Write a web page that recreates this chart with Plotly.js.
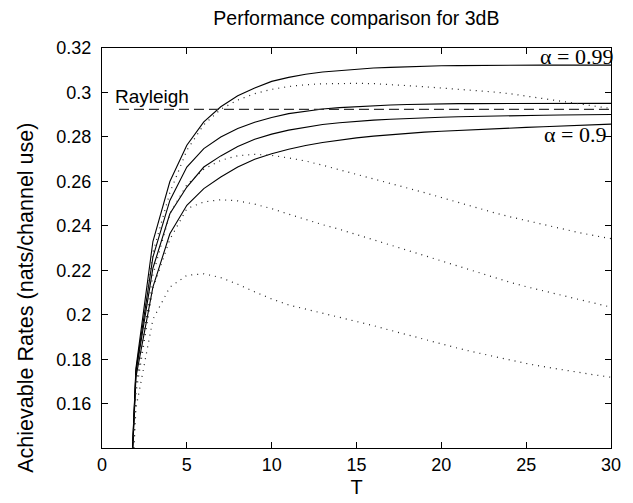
<!DOCTYPE html>
<html>
<head>
<meta charset="utf-8">
<script src="https://cdn.plot.ly/plotly-3.0.1.min.js"></script>
<style>html,body{margin:0;padding:0;background:#fff;}#chart{width:633px;height:503px;}</style>
</head>
<body>
<div id="chart"></div>
<script>
// Block length T
const T = [1,2,3,4,5,6,7,8,9,10,11,12,13,14,15,16,17,18,19,20,21,22,23,24,25,26,27,28,29,30];

// Solid curves (alpha = 0.99 ... alpha = 0.9)
const solid099 = [0,0.176,0.233,0.260,0.2763,0.2868,0.2936,0.2985,0.302,0.305,0.3068,0.3082,0.3092,0.3099,0.3105,0.311,0.3113,0.3116,0.3118,0.312,0.3121,0.3122,0.3122,0.3123,0.3123,0.3123,0.3123,0.3123,0.3123,0.3123];
const solidB   = [0,0.175,0.226,0.2515,0.2665,0.2748,0.280,0.2838,0.2866,0.2888,0.2905,0.2917,0.2926,0.2932,0.2937,0.2941,0.2944,0.2946,0.2948,0.2949,0.295,0.295,0.295,0.2951,0.2951,0.2951,0.2951,0.2951,0.2951,0.2951];
const solidC   = [0,0.174,0.221,0.2455,0.2575,0.2665,0.2715,0.2757,0.279,0.2813,0.2831,0.2845,0.2856,0.2864,0.2871,0.2876,0.288,0.2884,0.2887,0.2889,0.2891,0.2893,0.2895,0.2896,0.2897,0.2898,0.2899,0.29,0.29,0.2901];
const solid09  = [0,0.172,0.2125,0.2365,0.2493,0.2568,0.262,0.2665,0.270,0.2725,0.2745,0.2762,0.2775,0.2786,0.2796,0.2804,0.2811,0.2817,0.2822,0.2826,0.283,0.2833,0.2836,0.2839,0.2843,0.2846,0.2849,0.2852,0.2855,0.2858];

// Dotted curves
const dotA = [0,0.172,0.228,0.255,0.274,0.2855,0.2925,0.2966,0.2995,0.3014,0.3027,0.3035,0.3039,0.3041,0.3041,0.304,0.3036,0.3031,0.3026,0.302,0.3015,0.301,0.3003,0.2995,0.2984,0.2972,0.296,0.2948,0.2938,0.2928];
const dotB = [0,0.168,0.218,0.2455,0.2585,0.2655,0.2695,0.2716,0.2722,0.2717,0.2706,0.2692,0.2673,0.2653,0.2633,0.2612,0.2592,0.2571,0.255,0.2528,0.2505,0.2482,0.2462,0.2442,0.2424,0.2405,0.2388,0.2372,0.2357,0.2343];
const dotC = [0,0.165,0.212,0.234,0.2478,0.2508,0.2518,0.2513,0.2498,0.2478,0.2453,0.2428,0.2406,0.2385,0.2362,0.2338,0.2314,0.229,0.2267,0.2243,0.2219,0.2195,0.2171,0.2148,0.2127,0.2108,0.2089,0.207,0.2052,0.2035];
const dotD = [0,0.158,0.198,0.2125,0.2178,0.2185,0.2168,0.2138,0.2104,0.2072,0.2045,0.2027,0.2009,0.1991,0.1972,0.1952,0.1931,0.191,0.189,0.187,0.185,0.1832,0.1815,0.1798,0.1782,0.1768,0.1755,0.1742,0.1731,0.172];

// Rayleigh reference
const rayleighT = [1,30];
const rayleighRate = [0.2924,0.2924];

const xTicks = [0,5,10,15,20,25,30];
const yTicks = [0.16,0.18,0.2,0.22,0.24,0.26,0.28,0.3,0.32];
const yTickText = ['0.16','0.18','0.2','0.22','0.24','0.26','0.28','0.3','0.32'];

const solidLine = {color:'#000', width:1.1};
const dotLine = {color:'#222', width:1.2, dash:'1px,5px'};

const traces = [];
[solid099, solidB, solidC, solid09].forEach(s => traces.push({x:T, y:s, type:'scatter', mode:'lines', line:solidLine, hoverinfo:'skip'}));
[dotA, dotB, dotC, dotD].forEach(s => traces.push({x:T, y:s, type:'scatter', mode:'lines', line:dotLine, hoverinfo:'skip'}));
traces.push({x:rayleighT, y:rayleighRate, type:'scatter', mode:'lines', line:{color:'#333', width:1.3, dash:'10px,5px'}, hoverinfo:'skip'});

const font = 'Liberation Sans, Arial, Helvetica, sans-serif';
const serif = 'Liberation Serif, Times New Roman, serif';
const layout = {
  width:633, height:503,
  margin:{l:102, r:22, t:48, b:55},
  paper_bgcolor:'#fff', plot_bgcolor:'#fff',
  showlegend:false,
  title:{text:'Performance comparison for 3dB', font:{family:font, size:19.5, color:'#000'}, x:0.563, xanchor:'center', y:0.964, yanchor:'middle'},
  xaxis:{range:[0,30], tickvals:xTicks, ticks:'inside', ticklen:6, tickcolor:'#000', showline:true, linecolor:'#000', linewidth:1, mirror:'ticks', showgrid:false, zeroline:false,
    tickfont:{family:font, size:18, color:'#000'},
    title:{text:'T', font:{family:font, size:20, color:'#000'}, standoff:6}},
  yaxis:{range:[0.1402,0.32], tickvals:yTicks, ticktext:yTickText, ticks:'inside', ticklen:6, tickcolor:'#000', showline:true, linecolor:'#000', linewidth:1, mirror:'ticks', showgrid:false, zeroline:false,
    ticklabelstandoff:6,
    tickfont:{family:font, size:18, color:'#000'}},
  annotations:[
    {x:-0.151, y:0.376, xref:'paper', yref:'paper', text:'Achievable Rates (nats/channel use)', textangle:-90, showarrow:false, xanchor:'center', yanchor:'middle', font:{family:font, size:21.5, color:'#000'}},
    {x:0.67, y:0.2984, xref:'x', yref:'y', xanchor:'left', text:'Rayleigh', showarrow:false, font:{family:font, size:19, color:'#000'}},
    {x:1.0085, y:0.3164, xref:'paper', yref:'y', xanchor:'right', text:'α = 0.99', showarrow:false, font:{family:serif, size:22, color:'#000'}},
    {x:0.9947, y:0.2810, xref:'paper', yref:'y', xanchor:'right', text:'α = 0.9', showarrow:false, font:{family:serif, size:22, color:'#000'}}
  ]
};
Plotly.newPlot('chart', traces, layout, {displayModeBar:false, staticPlot:true});
</script>
</body>
</html>
